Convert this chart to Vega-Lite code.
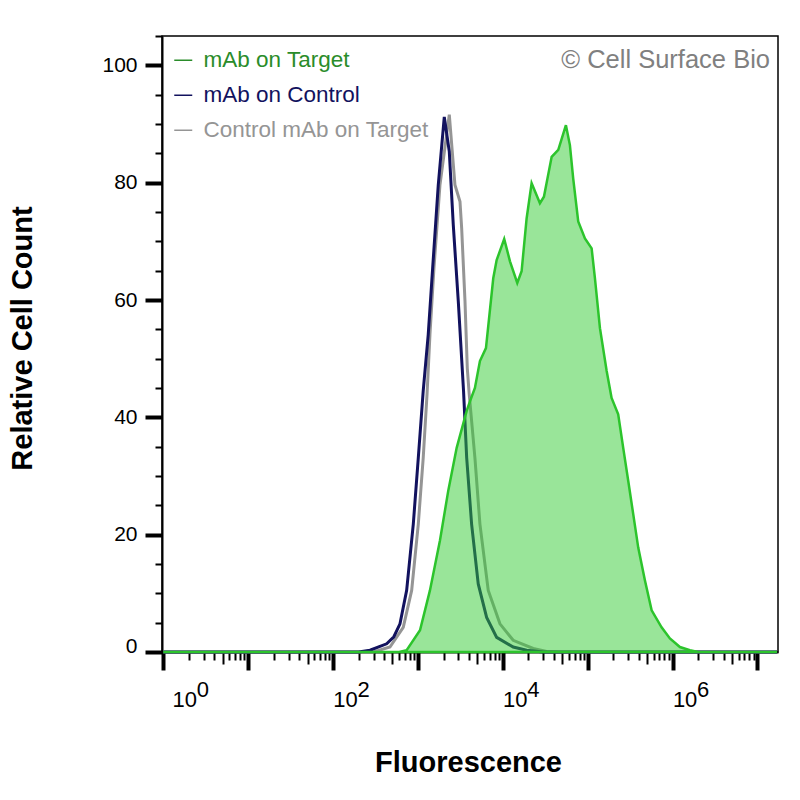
{
  "$schema": "https://vega.github.io/schema/vega-lite/v6.json",
  "width": 616,
  "height": 616,
  "autosize": {"type": "none"},
  "padding": {"left": 162, "top": 36, "right": 22, "bottom": 148},
  "background": "white",
  "config": {
    "view": {"stroke": "#000000", "strokeWidth": 1.5},
    "font": "Liberation Sans",
    "axis": {"grid": false, "labelFont": "Liberation Sans", "titleFont": "Liberation Sans", "labelColor": "#000000", "titleColor": "#000000"},
    "legend": {"labelFont": "Liberation Sans"},
    "title": {"font": "Liberation Sans"}
  },
  "title": {
    "text": "© Cell Surface Bio",
    "anchor": "end",
    "frame": "group",
    "orient": "top",
    "offset": -48,
    "dx": -8,
    "fontSize": 25.5,
    "fontWeight": "normal",
    "color": "#808080"
  },
  "data": {
    "values": [
      {"series": "mAb on Control", "fluor": 1, "count": 0},
      {"series": "mAb on Control", "fluor": 200, "count": 0},
      {"series": "mAb on Control", "fluor": 272, "count": 0.3},
      {"series": "mAb on Control", "fluor": 428, "count": 1.4},
      {"series": "mAb on Control", "fluor": 520, "count": 2.6},
      {"series": "mAb on Control", "fluor": 614, "count": 4.8},
      {"series": "mAb on Control", "fluor": 736, "count": 10.5},
      {"series": "mAb on Control", "fluor": 881, "count": 21.8},
      {"series": "mAb on Control", "fluor": 1009, "count": 33.1},
      {"series": "mAb on Control", "fluor": 1153, "count": 44.5},
      {"series": "mAb on Control", "fluor": 1321, "count": 54.1},
      {"series": "mAb on Control", "fluor": 1489, "count": 65.4},
      {"series": "mAb on Control", "fluor": 1734, "count": 79.6},
      {"series": "mAb on Control", "fluor": 2042, "count": 91.2},
      {"series": "mAb on Control", "fluor": 2339, "count": 85.3},
      {"series": "mAb on Control", "fluor": 2606, "count": 72.8},
      {"series": "mAb on Control", "fluor": 2985, "count": 59.8},
      {"series": "mAb on Control", "fluor": 3443, "count": 44.5},
      {"series": "mAb on Control", "fluor": 3750, "count": 33.1},
      {"series": "mAb on Control", "fluor": 4285, "count": 21.8},
      {"series": "mAb on Control", "fluor": 5129, "count": 11.6},
      {"series": "mAb on Control", "fluor": 6442, "count": 5.9},
      {"series": "mAb on Control", "fluor": 8453, "count": 2.5},
      {"series": "mAb on Control", "fluor": 13243, "count": 0.85},
      {"series": "mAb on Control", "fluor": 19055, "count": 0.3},
      {"series": "mAb on Control", "fluor": 30000, "count": 0},
      {"series": "mAb on Control", "fluor": 17000000, "count": 0},

      {"series": "Control mAb on Target", "fluor": 1, "count": 0},
      {"series": "Control mAb on Target", "fluor": 300, "count": 0},
      {"series": "Control mAb on Target", "fluor": 468, "count": 0.85},
      {"series": "Control mAb on Target", "fluor": 671, "count": 4.2},
      {"series": "Control mAb on Target", "fluor": 843, "count": 10.5},
      {"series": "Control mAb on Target", "fluor": 1009, "count": 21.8},
      {"series": "Control mAb on Target", "fluor": 1153, "count": 33.1},
      {"series": "Control mAb on Target", "fluor": 1280, "count": 44},
      {"series": "Control mAb on Target", "fluor": 1384, "count": 54.1},
      {"series": "Control mAb on Target", "fluor": 1542, "count": 65.4},
      {"series": "Control mAb on Target", "fluor": 1816, "count": 79.6},
      {"series": "Control mAb on Target", "fluor": 2339, "count": 91.6},
      {"series": "Control mAb on Target", "fluor": 2729, "count": 79.6},
      {"series": "Control mAb on Target", "fluor": 3126, "count": 76.8},
      {"series": "Control mAb on Target", "fluor": 3273, "count": 72.2},
      {"series": "Control mAb on Target", "fluor": 3581, "count": 59.8},
      {"series": "Control mAb on Target", "fluor": 3811, "count": 48.4},
      {"series": "Control mAb on Target", "fluor": 4018, "count": 43.9},
      {"series": "Control mAb on Target", "fluor": 4688, "count": 33.1},
      {"series": "Control mAb on Target", "fluor": 5370, "count": 21.8},
      {"series": "Control mAb on Target", "fluor": 6730, "count": 10.5},
      {"series": "Control mAb on Target", "fluor": 9247, "count": 4.8},
      {"series": "Control mAb on Target", "fluor": 13243, "count": 2},
      {"series": "Control mAb on Target", "fluor": 22803, "count": 0.6},
      {"series": "Control mAb on Target", "fluor": 32810, "count": 0.1},
      {"series": "Control mAb on Target", "fluor": 45000, "count": 0},
      {"series": "Control mAb on Target", "fluor": 17000000, "count": 0},

      {"series": "mAb on Target", "fluor": 1, "count": 0},
      {"series": "mAb on Target", "fluor": 600, "count": 0},
      {"series": "mAb on Target", "fluor": 736, "count": 0.3},
      {"series": "mAb on Target", "fluor": 1057, "count": 3.7},
      {"series": "mAb on Target", "fluor": 1384, "count": 10.5},
      {"series": "mAb on Target", "fluor": 1816, "count": 19},
      {"series": "mAb on Target", "fluor": 2275, "count": 27.5},
      {"series": "mAb on Target", "fluor": 2858, "count": 34.8},
      {"series": "mAb on Target", "fluor": 3750, "count": 41.1},
      {"series": "mAb on Target", "fluor": 4093, "count": 42.7},
      {"series": "mAb on Target", "fluor": 4688, "count": 45},
      {"series": "mAb on Target", "fluor": 5370, "count": 49.6},
      {"series": "mAb on Target", "fluor": 6324, "count": 51.8},
      {"series": "mAb on Target", "fluor": 7709, "count": 63.7},
      {"series": "mAb on Target", "fluor": 8453, "count": 66.8},
      {"series": "mAb on Target", "fluor": 10375, "count": 70.4},
      {"series": "mAb on Target", "fluor": 12134, "count": 66.6},
      {"series": "mAb on Target", "fluor": 14791, "count": 62.9},
      {"series": "mAb on Target", "fluor": 16634, "count": 64.9},
      {"series": "mAb on Target", "fluor": 19055, "count": 73.9},
      {"series": "mAb on Target", "fluor": 21827, "count": 79.9},
      {"series": "mAb on Target", "fluor": 27353, "count": 76.5},
      {"series": "mAb on Target", "fluor": 30479, "count": 77.6},
      {"series": "mAb on Target", "fluor": 37584, "count": 84.4},
      {"series": "mAb on Target", "fluor": 44978, "count": 85.6},
      {"series": "mAb on Target", "fluor": 55335, "count": 89.8},
      {"series": "mAb on Target", "fluor": 61660, "count": 86.4},
      {"series": "mAb on Target", "fluor": 67453, "count": 80.7},
      {"series": "mAb on Target", "fluor": 77268, "count": 73.4},
      {"series": "mAb on Target", "fluor": 92683, "count": 70.5},
      {"series": "mAb on Target", "fluor": 111173, "count": 68.8},
      {"series": "mAb on Target", "fluor": 121619, "count": 63.7},
      {"series": "mAb on Target", "fluor": 139316, "count": 55.2},
      {"series": "mAb on Target", "fluor": 167109, "count": 47.9},
      {"series": "mAb on Target", "fluor": 190985, "count": 43.3},
      {"series": "mAb on Target", "fluor": 228560, "count": 40.5},
      {"series": "mAb on Target", "fluor": 261818, "count": 34.8},
      {"series": "mAb on Target", "fluor": 299916, "count": 29.2},
      {"series": "mAb on Target", "fluor": 343558, "count": 23.5},
      {"series": "mAb on Target", "fluor": 393550, "count": 17.8},
      {"series": "mAb on Target", "fluor": 472063, "count": 12.2},
      {"series": "mAb on Target", "fluor": 566239, "count": 7.1},
      {"series": "mAb on Target", "fluor": 741310, "count": 4.2},
      {"series": "mAb on Target", "fluor": 928966, "count": 2.3},
      {"series": "mAb on Target", "fluor": 1219000, "count": 0.85},
      {"series": "mAb on Target", "fluor": 1599558, "count": 0.3},
      {"series": "mAb on Target", "fluor": 2000000, "count": 0},
      {"series": "mAb on Target", "fluor": 17000000, "count": 0}
    ]
  },
  "encoding": {
    "y": {
      "field": "count",
      "type": "quantitative",
      "scale": {"domain": [0, 105], "nice": false, "zero": false},
      "axis": {
        "title": "Relative Cell Count",
        "titleFontSize": 29,
        "titleFontWeight": "bold",
        "titleAngle": 270,
        "titleX": -140,
        "titleY": 302,
        "titleAlign": "center",
        "titleBaseline": "middle",
        "values": [0, 5, 10, 15, 20, 25, 30, 35, 40, 45, 50, 55, 60, 65, 70, 75, 80, 85, 90, 95, 100, 105],
        "labelExpr": "datum.value % 20 === 0 ? datum.label : ''",
        "labelFontSize": 21,
        "labelPadding": 8,
        "labelBaseline": {"condition": {"test": "datum.value === 0", "value": "alphabetic"}, "value": "middle"},
        "tickColor": "#000000",
        "tickSize": {"condition": {"test": "datum.value % 20 === 0", "value": 17}, "value": 7},
        "tickWidth": {"condition": {"test": "datum.value % 20 === 0", "value": 4}, "value": 2},
        "domainColor": "#000000",
        "domainWidth": 2,
        "labelOverlap": false,
        "grid": false
      }
    }
  },
  "layer": [
    {
      "transform": [{"filter": "datum.series === 'Control mAb on Target'"}],
      "mark": {"type": "line", "strokeWidth": 3, "interpolate": "linear"},
      "encoding": {
        "x": {
          "field": "fluor",
          "type": "quantitative",
          "scale": {"type": "log", "domain": [0.965, 17440000], "nice": false},
          "axis": {
            "title": null,
            "orient": "bottom",
            "values": [1, 100, 10000, 1000000],
            "ticks": false,
            "domain": false,
            "labelExpr": "datum.value === 1 ? '0' : datum.value === 100 ? '2' : datum.value === 10000 ? '4' : '6'",
            "labelFontSize": 22,
            "labelPadding": 27,
            "labelAlign": "center",
            "labelOffset": {"condition": {"test": "datum.value === 1", "value": 39}, "value": 30},
            "labelOverlap": false,
            "labelFlush": false,
            "grid": false
          }
        },
        "color": {
          "field": "series",
          "type": "nominal",
          "scale": {
            "domain": ["mAb on Target", "mAb on Control", "Control mAb on Target"],
            "range": ["#2a8c2a", "#12125e", "#959595"]
          },
          "legend": {
            "title": null,
            "orient": "none",
            "legendX": 10,
            "legendY": 13,
            "padding": 0,
            "symbolType": "stroke",
            "symbolSize": 324,
            "symbolStrokeWidth": 1.5,
            "labelFontSize": 22.5,
            "labelLimit": 0,
            "labelOffset": 9,
            "rowPadding": 12,
            "encode": {"labels": {"update": {"fill": {"scale": "color", "field": "value"}}}}
          }
        }
      }
    },
    {
      "transform": [{"filter": "datum.series === 'mAb on Control'"}],
      "mark": {"type": "line", "strokeWidth": 3, "interpolate": "linear"},
      "encoding": {
        "x": {
          "field": "fluor",
          "type": "quantitative",
          "scale": {"type": "log", "domain": [0.965, 17440000], "nice": false},
          "axis": {
            "title": null,
            "orient": "bottom",
            "values": [1, 100, 10000, 1000000],
            "ticks": false,
            "domain": false,
            "labelExpr": "'10'",
            "labelFontSize": 22,
            "labelPadding": 37,
            "labelAlign": "center",
            "labelOffset": {"condition": {"test": "datum.value === 1", "value": 21}, "value": 12},
            "labelOverlap": false,
            "labelFlush": false,
            "grid": false
          }
        },
        "color": {"field": "series", "type": "nominal"}
      }
    },
    {
      "transform": [{"filter": "datum.series === 'mAb on Target'"}],
      "mark": {"type": "area", "fill": "#33cc33", "fillOpacity": 0.5, "stroke": "#2cc42c", "strokeWidth": 2.5, "strokeOpacity": 1, "interpolate": "linear"},
      "encoding": {
        "x": {
          "field": "fluor",
          "type": "quantitative",
          "scale": {"type": "log", "domain": [0.965, 17440000], "nice": false},
          "axis": {
            "title": "Fluorescence",
            "titleFontSize": 29,
            "titleFontWeight": "bold",
            "titleX": 306,
            "titleY": 110,
            "titleAlign": "center",
            "titleBaseline": "middle",
            "orient": "bottom",
            "values": [1, 2, 3, 4, 5, 6, 7, 8, 9, 10, 20, 30, 40, 50, 60, 70, 80, 90, 100, 200, 300, 400, 500, 600, 700, 800, 900, 1000, 2000, 3000, 4000, 5000, 6000, 7000, 8000, 9000, 10000, 20000, 30000, 40000, 50000, 60000, 70000, 80000, 90000, 100000, 200000, 300000, 400000, 500000, 600000, 700000, 800000, 900000, 1000000, 2000000, 3000000, 4000000, 5000000, 6000000, 7000000, 8000000, 9000000, 10000000],
            "labels": false,
            "tickColor": "#000000",
            "tickSize": {
              "condition": [
                {"test": "indexof([1,10,100,1000,10000,100000,1000000,10000000], datum.value) >= 0", "value": 18},
                {"test": "indexof([5,50,500,5000,50000,500000,5000000], datum.value) >= 0", "value": 12}
              ],
              "value": 8
            },
            "tickWidth": {
              "condition": {"test": "indexof([1,10,100,1000,10000,100000,1000000,10000000], datum.value) >= 0", "value": 4},
              "value": 2
            },
            "domainColor": "#000000",
            "domainWidth": 2,
            "grid": false
          }
        }
      }
    }
  ],
  "resolve": {"axis": {"x": "independent"}}
}
